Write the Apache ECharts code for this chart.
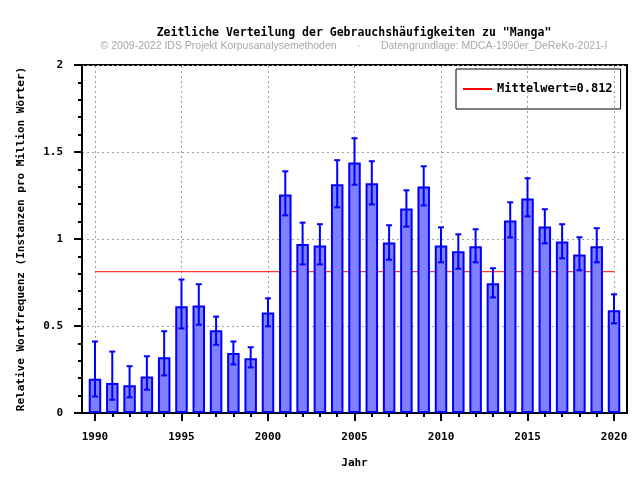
<!DOCTYPE html>
<html>
<head>
<meta charset="UTF-8">
<title>Manga</title>
<script src="https://cdn.jsdelivr.net/npm/echarts@6/dist/echarts.min.js"></script>
<style>
  html, body { margin: 0; padding: 0; background: #fff; }
  #main { width: 640px; height: 480px; }
</style>
</head>
<body>
<div id="main"></div>
<script type="text/javascript">
// Daten
var years = [1990, 1991, 1992, 1993, 1994, 1995, 1996, 1997, 1998, 1999, 2000,
  2001, 2002, 2003, 2004, 2005, 2006, 2007, 2008, 2009, 2010,
  2011, 2012, 2013, 2014, 2015, 2016, 2017, 2018, 2019, 2020];
var freq = [0.197, 0.172, 0.159, 0.210, 0.320, 0.613, 0.618, 0.475, 0.345, 0.314, 0.578,
  1.256, 0.971, 0.963, 1.314, 1.440, 1.320, 0.980, 1.176, 1.302, 0.963,
  0.929, 0.958, 0.745, 1.107, 1.233, 1.072, 0.986, 0.911, 0.958, 0.590];
var errLow = [0.095, 0.076, 0.090, 0.134, 0.216, 0.486, 0.507, 0.392, 0.279, 0.262, 0.498,
  1.136, 0.854, 0.854, 1.182, 1.312, 1.199, 0.881, 1.071, 1.193, 0.866,
  0.829, 0.866, 0.664, 1.009, 1.130, 0.975, 0.889, 0.820, 0.866, 0.515];
var errHigh = [0.411, 0.353, 0.269, 0.326, 0.470, 0.767, 0.740, 0.554, 0.411, 0.378, 0.659,
  1.389, 1.094, 1.085, 1.453, 1.579, 1.447, 1.079, 1.280, 1.418, 1.067,
  1.027, 1.056, 0.832, 1.211, 1.349, 1.171, 1.085, 1.010, 1.062, 0.682];
var mean = 0.812;
var majorYears = [1990, 1995, 2000, 2005, 2010, 2015, 2020];
var yTicks = [0, 0.5, 1, 1.5, 2];

var mono = 'DejaVu Sans Mono';
var blue = '#0000ff';

var barData = years.map(function (y, i) { return [y, freq[i]]; });
var errData = years.map(function (y, i) { return [y, errLow[i], errHigh[i]]; });

function renderError(params, api) {
  var x = api.value(0);
  var lo = api.coord([x, api.value(1)]);
  var hi = api.coord([x, api.value(2)]);
  var cap = 3;
  var st = { stroke: blue, lineWidth: 2 };
  return {
    type: 'group',
    children: [
      { type: 'line', shape: { x1: hi[0], y1: hi[1], x2: lo[0], y2: lo[1] }, style: st },
      { type: 'line', shape: { x1: hi[0] - cap, y1: hi[1], x2: hi[0] + cap, y2: hi[1] }, style: st },
      { type: 'line', shape: { x1: lo[0] - cap, y1: lo[1], x2: lo[0] + cap, y2: lo[1] }, style: st }
    ]
  };
}

var myChart = echarts.init(document.getElementById('main'));

var option = {
  animation: false,
  backgroundColor: '#fff',
  title: {
    text: 'Zeitliche Verteilung der Gebrauchshäufigkeiten zu "Manga"',
    subtext: '© 2009-2022 IDS Projekt Korpusanalysemethoden       ·       Datengrundlage: MDCA-1990er_DeReKo-2021-I',
    left: 354,
    top: 27,
    textAlign: 'center',
    itemGap: 2,
    padding: 0,
    textStyle: { fontFamily: mono, fontWeight: 'bold', fontSize: 11.5, color: '#000' },
    subtextStyle: { fontFamily: 'Liberation Sans', fontSize: 10.5, color: '#a8a8a8' }
  },
  legend: {
    data: ['Mittelwert=0.812'],
    left: 456,
    top: 69,
    padding: [13, 8, 13, 6],
    itemWidth: 29,
    itemHeight: 2,
    itemGap: 5,
    borderColor: '#000',
    borderWidth: 1,
    textStyle: { fontFamily: mono, fontWeight: 'bold', fontSize: 12, color: '#000', lineHeight: 14 }
  },
  grid: {
    left: 82,
    right: 13,
    top: 65,
    bottom: 67,
    show: true,
    borderColor: '#000',
    borderWidth: 2
  },
  xAxis: [{
    type: 'value',
    min: 1989.25,
    max: 2020.75,
    name: 'Jahr',
    nameLocation: 'middle',
    nameGap: 45,
    nameTextStyle: { fontFamily: mono, fontWeight: 'bold', fontSize: 11, color: '#000' },
    axisLine: { lineStyle: { color: '#000', width: 2 } },
    axisTick: { customValues: years, length: 4, lineStyle: { color: '#000', width: 2 } },
    axisLabel: {
      customValues: majorYears,
      margin: 19,
      fontFamily: mono, fontWeight: 'bold', fontSize: 11, color: '#000',
      formatter: function (v) { return String(v); }
    },
    splitLine: { show: false }
  }, {
    type: 'value',
    position: 'bottom',
    min: 1989.25,
    max: 2020.75,
    axisLine: { show: false },
    axisTick: { customValues: majorYears, length: 8, lineStyle: { color: '#000', width: 2 } },
    axisLabel: { show: false },
    splitLine: { show: false }
  }],
  yAxis: {
    type: 'value',
    min: 0,
    max: 2,
    interval: 0.5,
    name: 'Relative Wortfrequenz (Instanzen pro Million Wörter)',
    nameLocation: 'middle',
    nameGap: 55,
    nameTextStyle: { fontFamily: mono, fontWeight: 'bold', fontSize: 11, color: '#000' },
    axisLine: { show: true, lineStyle: { color: '#000', width: 2 } },
    axisTick: { show: true, length: 8, lineStyle: { color: '#000', width: 2 } },
    minorTick: { show: true, splitNumber: 5, length: 4, lineStyle: { color: '#000', width: 2 } },
    axisLabel: {
      margin: 19,
      fontFamily: mono, fontWeight: 'bold', fontSize: 11, color: '#000',
      formatter: function (v) { return yTicks.indexOf(v) >= 0 ? String(v) : ''; }
    },
    splitLine: { show: true, lineStyle: { color: '#a0a0a0', width: 1, type: [2, 3] } }
  },
  series: [{
    name: 'Mittelwert=0.812',
    type: 'line',
    z: 1,
    symbol: 'none',
    data: [[years[0], mean], [years[years.length - 1], mean]],
    lineStyle: { color: '#ff0000', width: 1 },
    itemStyle: { color: '#ff0000' },
    markLine: {
      silent: true,
      z: 0,
      symbol: 'none',
      label: { show: false },
      lineStyle: { color: '#a0a0a0', width: 1, type: [2, 3] },
      data: majorYears.map(function (y) { return { xAxis: y }; })
    }
  }, {
    name: 'freq',
    type: 'bar',
    z: 2,
    barWidth: 12.5,
    data: barData,
    itemStyle: { color: '#8080ff', borderColor: blue, borderWidth: 2 }
  }, {
    name: 'err',
    type: 'custom',
    z: 3,
    renderItem: renderError,
    data: errData
  }]
};

myChart.setOption(option);
</script>
</body>
</html>
